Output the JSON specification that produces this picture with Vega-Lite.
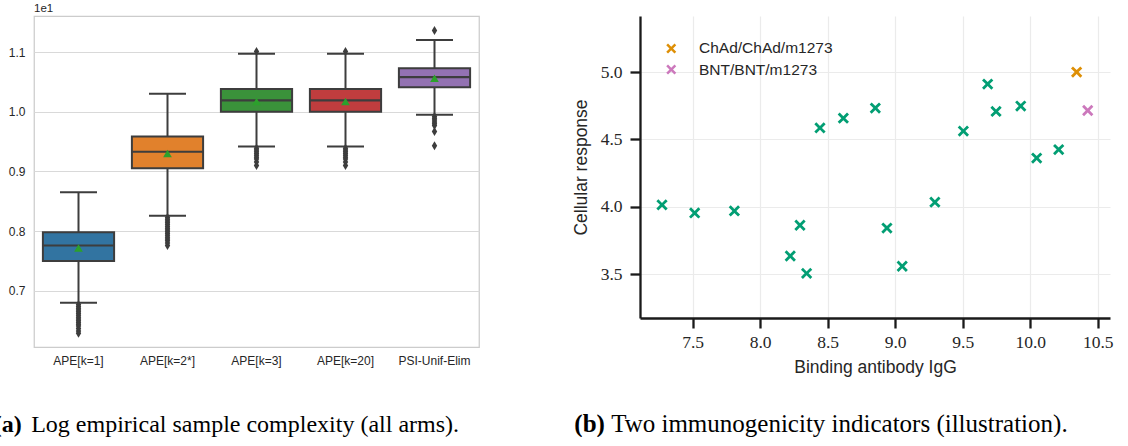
{
  "$schema": "https://vega.github.io/schema/vega-lite/v6.json",
  "padding": {"left": -7, "top": 2, "right": 0, "bottom": 0},
  "background": "white",
  "spacing": 92,
  "resolve": {"scale": {"color": "independent"}},
  "config": {"view": {"stroke": null}},
  "datasets": {
    "boxes": [
      {"arm": "APE[k=1]", "lo": 0.680, "q1": 0.750, "med": 0.776, "mean": 0.772, "q3": 0.798, "hi": 0.865},
      {"arm": "APE[k=2*]", "lo": 0.826, "q1": 0.9055, "med": 0.933, "mean": 0.930, "q3": 0.9586, "hi": 1.030},
      {"arm": "APE[k=3]", "lo": 0.942, "q1": 1.000, "med": 1.019, "mean": 1.017, "q3": 1.038, "hi": 1.097},
      {"arm": "APE[k=20]", "lo": 0.942, "q1": 1.000, "med": 1.019, "mean": 1.017, "q3": 1.038, "hi": 1.097},
      {"arm": "PSI-Unif-Elim", "lo": 0.995, "q1": 1.041, "med": 1.058, "mean": 1.056, "q3": 1.073, "hi": 1.120}
    ],
    "outliers": [
      {"arm": "APE[k=1]", "v": 0.677}, {"arm": "APE[k=1]", "v": 0.674}, {"arm": "APE[k=1]", "v": 0.671},
      {"arm": "APE[k=1]", "v": 0.668}, {"arm": "APE[k=1]", "v": 0.665}, {"arm": "APE[k=1]", "v": 0.662},
      {"arm": "APE[k=1]", "v": 0.659}, {"arm": "APE[k=1]", "v": 0.656}, {"arm": "APE[k=1]", "v": 0.653},
      {"arm": "APE[k=1]", "v": 0.650}, {"arm": "APE[k=1]", "v": 0.647}, {"arm": "APE[k=1]", "v": 0.644},
      {"arm": "APE[k=1]", "v": 0.641}, {"arm": "APE[k=1]", "v": 0.637}, {"arm": "APE[k=1]", "v": 0.633},
      {"arm": "APE[k=1]", "v": 0.629},
      {"arm": "APE[k=2*]", "v": 0.823}, {"arm": "APE[k=2*]", "v": 0.820}, {"arm": "APE[k=2*]", "v": 0.817},
      {"arm": "APE[k=2*]", "v": 0.814}, {"arm": "APE[k=2*]", "v": 0.811}, {"arm": "APE[k=2*]", "v": 0.808},
      {"arm": "APE[k=2*]", "v": 0.805}, {"arm": "APE[k=2*]", "v": 0.802}, {"arm": "APE[k=2*]", "v": 0.799},
      {"arm": "APE[k=2*]", "v": 0.796}, {"arm": "APE[k=2*]", "v": 0.793}, {"arm": "APE[k=2*]", "v": 0.790},
      {"arm": "APE[k=2*]", "v": 0.787}, {"arm": "APE[k=2*]", "v": 0.784}, {"arm": "APE[k=2*]", "v": 0.780},
      {"arm": "APE[k=2*]", "v": 0.776},
      {"arm": "APE[k=3]", "v": 0.939}, {"arm": "APE[k=3]", "v": 0.936}, {"arm": "APE[k=3]", "v": 0.933},
      {"arm": "APE[k=3]", "v": 0.930}, {"arm": "APE[k=3]", "v": 0.927}, {"arm": "APE[k=3]", "v": 0.924},
      {"arm": "APE[k=3]", "v": 0.921}, {"arm": "APE[k=3]", "v": 0.916}, {"arm": "APE[k=3]", "v": 0.910},
      {"arm": "APE[k=3]", "v": 1.101},
      {"arm": "APE[k=20]", "v": 0.939}, {"arm": "APE[k=20]", "v": 0.936}, {"arm": "APE[k=20]", "v": 0.933},
      {"arm": "APE[k=20]", "v": 0.930}, {"arm": "APE[k=20]", "v": 0.927}, {"arm": "APE[k=20]", "v": 0.924},
      {"arm": "APE[k=20]", "v": 0.921}, {"arm": "APE[k=20]", "v": 0.916}, {"arm": "APE[k=20]", "v": 0.910},
      {"arm": "APE[k=20]", "v": 1.101},
      {"arm": "PSI-Unif-Elim", "v": 0.992}, {"arm": "PSI-Unif-Elim", "v": 0.989}, {"arm": "PSI-Unif-Elim", "v": 0.986},
      {"arm": "PSI-Unif-Elim", "v": 0.983}, {"arm": "PSI-Unif-Elim", "v": 0.980}, {"arm": "PSI-Unif-Elim", "v": 0.977},
      {"arm": "PSI-Unif-Elim", "v": 0.967}, {"arm": "PSI-Unif-Elim", "v": 0.943}, {"arm": "PSI-Unif-Elim", "v": 1.136}
    ],
    "points": [
      {"igg": 7.273, "cell": 4.015, "group": "Other"},
      {"igg": 7.515, "cell": 3.955, "group": "Other"},
      {"igg": 7.809, "cell": 3.970, "group": "Other"},
      {"igg": 8.223, "cell": 3.636, "group": "Other"},
      {"igg": 8.295, "cell": 3.864, "group": "Other"},
      {"igg": 8.344, "cell": 3.507, "group": "Other"},
      {"igg": 8.443, "cell": 4.586, "group": "Other"},
      {"igg": 8.616, "cell": 4.658, "group": "Other"},
      {"igg": 8.853, "cell": 4.733, "group": "Other"},
      {"igg": 8.939, "cell": 3.843, "group": "Other"},
      {"igg": 9.052, "cell": 3.560, "group": "Other"},
      {"igg": 9.294, "cell": 4.035, "group": "Other"},
      {"igg": 9.505, "cell": 4.562, "group": "Other"},
      {"igg": 9.685, "cell": 4.911, "group": "Other"},
      {"igg": 9.747, "cell": 4.708, "group": "Other"},
      {"igg": 9.930, "cell": 4.748, "group": "Other"},
      {"igg": 10.048, "cell": 4.362, "group": "Other"},
      {"igg": 10.211, "cell": 4.425, "group": "Other"},
      {"igg": 10.344, "cell": 5.000, "group": "ChAd/ChAd/m1273"},
      {"igg": 10.426, "cell": 4.715, "group": "BNT/BNT/m1273"}
    ]
  },
  "hconcat": [
    {
      "title": {
        "text": "(a)", "orient": "bottom", "anchor": "start", "dx": -14, "dy": -24, "offset": 0,
        "font": "Liberation Serif", "fontSize": 24, "fontWeight": "bold", "color": "#000000"
      },
      "vconcat": [
        {
          "title": {
            "text": "Log empirical sample complexity (all arms).", "orient": "bottom", "anchor": "start", "dx": 23.5, "offset": 46,
            "font": "Liberation Serif", "fontSize": 24, "fontWeight": "normal", "color": "#000000"
          },
          "vconcat": [
            {
              "width": 445,
              "height": 331,
              "view": {"stroke": "#cccccc", "strokeWidth": 1.25},
              "title": {
                "text": "1e1", "orient": "top", "anchor": "start", "frame": "group", "offset": 1.5,
                "font": "Liberation Sans", "fontSize": 11.5, "fontWeight": "normal", "color": "#262626"
              },
              "encoding": {
                "x": {
                  "field": "arm", "type": "nominal",
                  "scale": {"type": "band", "domain": ["APE[k=1]", "APE[k=2*]", "APE[k=3]", "APE[k=20]", "PSI-Unif-Elim"], "paddingInner": 0, "paddingOuter": 0},
                  "axis": {"title": null, "domain": false, "ticks": false, "labelAngle": 0, "labelPadding": 8, "labelFont": "Liberation Sans", "labelFontSize": 12, "labelColor": "#262626", "grid": false}
                }
              },
              "layer": [
                {
                  "data": {"name": "boxes"},
                  "mark": {"type": "rule", "color": "#3d3d3d", "strokeWidth": 2},
                  "encoding": {
                    "y": {
                      "field": "lo", "type": "quantitative", "title": null,
                      "scale": {"domain": [0.606, 1.1604], "nice": false, "zero": false},
                      "axis": {"title": null, "values": [0.7, 0.8, 0.9, 1.0, 1.1], "format": ".1f", "domain": false, "ticks": false, "labelPadding": 9, "labelFont": "Liberation Sans", "labelFontSize": 12, "labelColor": "#262626", "grid": true, "gridColor": "#d9d9d9", "gridWidth": 1.2}
                    },
                    "y2": {"field": "hi"}
                  }
                },
                {
                  "data": {"name": "boxes"},
                  "mark": {"type": "tick", "orient": "horizontal", "size": 37, "thickness": 2, "color": "#3d3d3d", "opacity": 1},
                  "encoding": {"y": {"field": "lo", "type": "quantitative", "title": null}}
                },
                {
                  "data": {"name": "boxes"},
                  "mark": {"type": "tick", "orient": "horizontal", "size": 37, "thickness": 2, "color": "#3d3d3d", "opacity": 1},
                  "encoding": {"y": {"field": "hi", "type": "quantitative", "title": null}}
                },
                {
                  "data": {"name": "boxes"},
                  "mark": {"type": "bar", "width": {"band": 0.8}, "stroke": "#3d3d3d", "strokeWidth": 2, "opacity": 1},
                  "encoding": {
                    "y": {"field": "q1", "type": "quantitative", "title": null},
                    "y2": {"field": "q3"},
                    "color": {
                      "field": "arm", "type": "nominal",
                      "scale": {"domain": ["APE[k=1]", "APE[k=2*]", "APE[k=3]", "APE[k=20]", "PSI-Unif-Elim"], "range": ["#3274a1", "#e1812c", "#3a923a", "#c03d3e", "#9372b2"]},
                      "legend": null
                    }
                  }
                },
                {
                  "data": {"name": "boxes"},
                  "mark": {"type": "tick", "orient": "horizontal", "size": 71.2, "thickness": 2.2, "color": "#3d3d3d", "opacity": 1},
                  "encoding": {"y": {"field": "med", "type": "quantitative", "title": null}}
                },
                {
                  "data": {"name": "outliers"},
                  "mark": {"type": "point", "shape": "M0,-1L0.6,0L0,1L-0.6,0Z", "filled": true, "size": 80, "color": "#3d3d3d", "opacity": 1},
                  "encoding": {"y": {"field": "v", "type": "quantitative", "title": null}}
                },
                {
                  "data": {"name": "boxes"},
                  "mark": {"type": "point", "shape": "triangle-up", "filled": true, "size": 75, "color": "#2ca02c", "opacity": 1},
                  "encoding": {"y": {"field": "mean", "type": "quantitative", "title": null}}
                }
              ]
            }
          ]
        }
      ]
    },
    {
      "title": {
        "text": "(b)", "orient": "bottom", "anchor": "start", "dx": 2.2, "dy": -25, "offset": 0,
        "font": "Liberation Serif", "fontSize": 25, "fontWeight": "bold", "color": "#000000"
      },
      "vconcat": [
        {
          "title": {
            "text": "Two immunogenicity indicators (illustration).", "orient": "bottom", "anchor": "start", "dx": 39, "offset": 36,
            "font": "Liberation Serif", "fontSize": 25, "fontWeight": "normal", "color": "#000000"
          },
          "vconcat": [
            {
              "width": 470,
              "height": 302,
              "view": {"stroke": null},
              "data": {"name": "points"},
              "mark": {
                "type": "point",
                "shape": "M-1,-0.65L-0.65,-1L0,-0.35L0.65,-1L1,-0.65L0.35,0L1,0.65L0.65,1L0,0.35L-0.65,1L-1,0.65L-0.35,0Z",
                "filled": true, "size": 128, "opacity": 1
              },
              "encoding": {
                "x": {
                  "field": "igg", "type": "quantitative",
                  "scale": {"domain": [7.11, 10.591], "nice": false, "zero": false},
                  "axis": {
                    "title": "Binding antibody IgG", "values": [7.5, 8.0, 8.5, 9.0, 9.5, 10.0, 10.5], "format": ".1f",
                    "titleFont": "Liberation Sans", "titleFontSize": 17.5, "titleFontWeight": "normal", "titleColor": "#262626", "titlePadding": 8,
                    "labelFont": "Liberation Serif", "labelFontSize": 17.5, "labelColor": "#262626", "labelPadding": 5,
                    "tickSize": 10, "tickWidth": 2.3, "tickColor": "#1a1a1a",
                    "domainColor": "#1a1a1a", "domainWidth": 2.3,
                    "grid": true, "gridColor": "#ebebeb", "gridWidth": 1.2
                  }
                },
                "y": {
                  "field": "cell", "type": "quantitative",
                  "scale": {"domain": [3.176, 5.4157], "nice": false, "zero": false},
                  "axis": {
                    "title": "Cellular response", "values": [3.5, 4.0, 4.5, 5.0], "format": ".1f",
                    "titleFont": "Liberation Sans", "titleFontSize": 17.5, "titleFontWeight": "normal", "titleColor": "#262626", "titlePadding": 10,
                    "labelFont": "Liberation Serif", "labelFontSize": 17.5, "labelColor": "#262626", "labelPadding": 8,
                    "tickSize": 10, "tickWidth": 2.3, "tickColor": "#1a1a1a",
                    "domainColor": "#1a1a1a", "domainWidth": 2.3,
                    "grid": true, "gridColor": "#ebebeb", "gridWidth": 1.2
                  }
                },
                "color": {
                  "field": "group", "type": "nominal",
                  "scale": {"domain": ["ChAd/ChAd/m1273", "BNT/BNT/m1273", "Other"], "range": ["#de8f05", "#cc78bc", "#029e73"]},
                  "legend": {
                    "title": null, "values": ["ChAd/ChAd/m1273", "BNT/BNT/m1273"],
                    "orient": "none", "legendX": 23.5, "legendY": 24.7, "padding": 0,
                    "labelFont": "Liberation Sans", "labelFontSize": 15.5, "labelColor": "#262626",
                    "labelOffset": 20, "rowPadding": 4.1, "symbolSize": 100,
                    "symbolType": "M-1,-0.65L-0.65,-1L0,-0.35L0.65,-1L1,-0.65L0.35,0L1,0.65L0.65,1L0,0.35L-0.65,1L-1,0.65L-0.35,0Z",
                    "symbolStrokeWidth": 0
                  }
                }
              }
            }
          ]
        }
      ]
    }
  ]
}
